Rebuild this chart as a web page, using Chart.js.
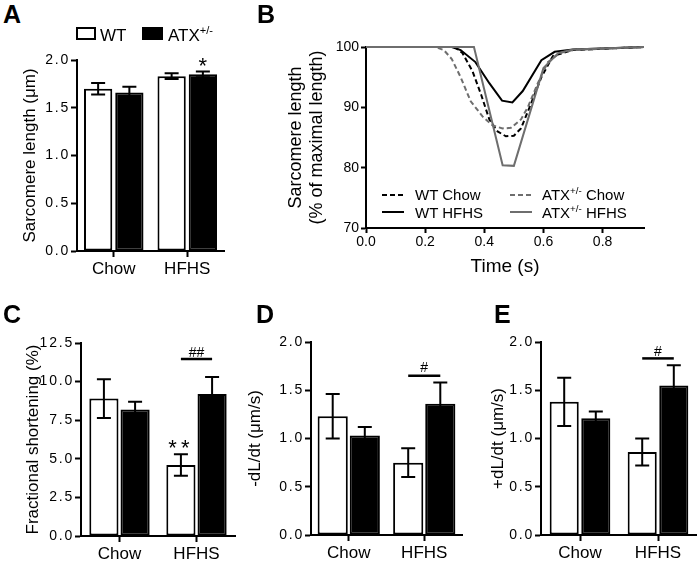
<!DOCTYPE html>
<html>
<head>
<meta charset="utf-8">
<script src="https://cdn.jsdelivr.net/npm/chart.js@4.4.1/dist/chart.umd.min.js"></script>
<style>
  body { margin: 0; background: #fff; }
  #wrap { position: relative; width: 697px; height: 564px; overflow: hidden; font-family: "Liberation Sans", Arial, sans-serif; color: #000; }
  canvas { position: absolute; }
  .panel { position: absolute; font-weight: bold; font-size: 25px; line-height: 25px; }
  .leg { position: absolute; font-size: 17px; line-height: 17px; white-space: nowrap; }
  .legB { position: absolute; font-size: 15px; line-height: 15px; white-space: nowrap; }
  .box { position: absolute; box-sizing: border-box; border: 2px solid #000; }
  sup { font-size: 0.65em; line-height: 0; vertical-align: 0; position: relative; top: -0.6em; }
  svg { position: absolute; }
</style>
</head>
<body>
<div id="wrap">
  <canvas id="chartA" width="240" height="250" style="left:0;top:40px"></canvas>
  <canvas id="chartB" width="457" height="270" style="left:240px;top:20px"></canvas>
  <canvas id="chartC" width="240" height="244" style="left:0;top:320px"></canvas>
  <canvas id="chartD" width="230" height="244" style="left:240px;top:320px"></canvas>
  <canvas id="chartE" width="227" height="244" style="left:470px;top:320px"></canvas>

  <div class="panel" style="left:3px;top:2px">A</div>
  <div class="panel" style="left:257px;top:2px">B</div>
  <div class="panel" style="left:3px;top:302px">C</div>
  <div class="panel" style="left:256px;top:302px">D</div>
  <div class="panel" style="left:494px;top:302px">E</div>

  <!-- legend A -->
  <div class="box" style="left:76px;top:27px;width:20px;height:13px;background:#fff"></div>
  <div class="leg" style="left:100px;top:27px">WT</div>
  <div class="box" style="left:142px;top:27px;width:21px;height:13px;background:#000"></div>
  <div class="leg" style="left:168px;top:27px">ATX<sup>+/-</sup></div>

  <!-- legend B -->
  <svg style="left:382px;top:190px" width="24" height="10"><line x1="0" y1="5" x2="22" y2="5" stroke="#000" stroke-width="2" stroke-dasharray="5,3"/></svg>
  <div class="legB" style="left:415px;top:187px">WT Chow</div>
  <svg style="left:382px;top:207px" width="24" height="10"><line x1="0" y1="5" x2="22" y2="5" stroke="#000" stroke-width="2"/></svg>
  <div class="legB" style="left:415px;top:205px">WT HFHS</div>
  <svg style="left:510px;top:190px" width="24" height="10"><line x1="0" y1="5" x2="22" y2="5" stroke="#6e6e6e" stroke-width="2" stroke-dasharray="5,3"/></svg>
  <div class="legB" style="left:542px;top:187px">ATX<sup>+/-</sup> Chow</div>
  <svg style="left:510px;top:207px" width="24" height="10"><line x1="0" y1="5" x2="22" y2="5" stroke="#6e6e6e" stroke-width="2"/></svg>
  <div class="legB" style="left:542px;top:205px">ATX<sup>+/-</sup> HFHS</div>
</div>

<script>
Chart.defaults.font.family = '"Liberation Sans", Arial, sans-serif';
Chart.defaults.color = '#000';
Chart.defaults.animation = false;

const categories = ['Chow', 'HFHS'];

// A: sarcomere length (µm)
const sarcWT = [1.70, 1.83];
const sarcWTErr = [0.06, 0.03];
const sarcATX = [1.66, 1.85];
const sarcATXErr = [0.06, 0.03];

// C: fractional shortening (%)
const fsWT = [8.9, 4.6];
const fsWTErr = [1.25, 0.7];
const fsATX = [8.2, 9.2];
const fsATXErr = [0.5, 1.1];

// D: -dL/dt (µm/s)
const minusWT = [1.23, 0.75];
const minusWTErr = [0.23, 0.15];
const minusATX = [1.03, 1.36];
const minusATXErr = [0.09, 0.22];

// E: +dL/dt (µm/s)
const plusWT = [1.38, 0.86];
const plusWTErr = [0.25, 0.14];
const plusATX = [1.21, 1.55];
const plusATXErr = [0.07, 0.21];

// B: sarcomere length traces (% of maximal length) vs time (s)
const timeTicks = [0, 0.2, 0.4, 0.6, 0.8];
const wtChowT = [0, 0.30, 0.326, 0.36, 0.39, 0.417, 0.445, 0.473, 0.50, 0.524, 0.553, 0.593, 0.632, 0.70, 0.94];
const wtChowY = [100, 100, 99, 96, 92, 88, 86, 85.2, 85.3, 86.5, 90, 95, 98.5, 99.5, 100];
const wtHfhsT = [0, 0.29, 0.32, 0.37, 0.417, 0.46, 0.495, 0.53, 0.593, 0.638, 0.70, 0.94];
const wtHfhsY = [100, 100, 99.5, 97.5, 94, 91.1, 90.8, 92.7, 97.8, 99.2, 99.6, 100];
const atxChowT = [0, 0.235, 0.263, 0.29, 0.32, 0.354, 0.394, 0.428, 0.462, 0.49, 0.524, 0.547, 0.581, 0.615, 0.655, 0.70, 0.94];
const atxChowY = [100, 100, 99.5, 98, 95, 91, 88.5, 87, 86.5, 86.6, 88, 90, 94, 97.5, 99, 99.5, 100];
const atxHfhsT = [0, 0.365, 0.462, 0.50, 0.60, 0.65, 0.70, 0.94];
const atxHfhsY = [100, 100, 80.4, 80.3, 96.5, 99, 99.6, 100];

// significance marks
const sarcMarks = [{ text: '*', ds: 1, idx: 1, value: 1.98, size: 22 }];
const fsMarks = [
  { text: '**', ds: 0, idx: 1, value: 5.93, size: 22, spacing: '4px' },
  { text: '##', idx: 1, value: 11.92, size: 14 },
  { kind: 'bar', idx: 1, value: 11.46 }
];
const minusMarks = [
  { text: '#', idx: 1, value: 1.736, size: 14 },
  { kind: 'bar', idx: 1, value: 1.65 }
];
const plusMarks = [
  { text: '#', idx: 1, value: 1.907, size: 14 },
  { kind: 'bar', idx: 1, value: 1.83 }
];

const errorBars = {
  id: 'errorBars',
  afterDatasetsDraw(chart) {
    const ctx = chart.ctx, y = chart.scales.y;
    chart.data.datasets.forEach((ds, i) => {
      if (!ds.errors) return;
      chart.getDatasetMeta(i).data.forEach((bar, j) => {
        const v = ds.data[j], e = ds.errors[j];
        const top = y.getPixelForValue(v + e);
        const bot = y.getPixelForValue(v - e);
        ctx.save();
        ctx.strokeStyle = '#000';
        ctx.lineWidth = 2;
        ctx.beginPath();
        ctx.moveTo(bar.x, top); ctx.lineTo(bar.x, bot);
        ctx.moveTo(bar.x - 7, top); ctx.lineTo(bar.x + 7, top);
        ctx.moveTo(bar.x - 7, bot); ctx.lineTo(bar.x + 7, bot);
        ctx.stroke();
        ctx.restore();
      });
    });
  }
};

function sigMarks(marks) {
  return {
    id: 'sigMarks',
    afterDatasetsDraw(chart) {
      const ctx = chart.ctx, y = chart.scales.y;
      const m0 = chart.getDatasetMeta(0).data, m1 = chart.getDatasetMeta(1).data;
      marks.forEach(m => {
        const py = y.getPixelForValue(m.value);
        ctx.save();
        ctx.fillStyle = '#000';
        ctx.strokeStyle = '#000';
        if (m.kind === 'bar') {
          ctx.lineWidth = 2.5;
          ctx.beginPath();
          ctx.moveTo(m0[m.idx].x, py);
          ctx.lineTo(m1[m.idx].x, py);
          ctx.stroke();
        } else {
          const px = m.ds === undefined ? (m0[m.idx].x + m1[m.idx].x) / 2 : chart.getDatasetMeta(m.ds).data[m.idx].x;
          ctx.font = m.size + 'px "Liberation Sans", Arial, sans-serif';
          ctx.letterSpacing = m.spacing || '0px';
          ctx.textAlign = 'center';
          ctx.textBaseline = 'alphabetic';
          const tm = ctx.measureText(m.text);
          ctx.fillText(m.text, px, py + (tm.actualBoundingBoxAscent - tm.actualBoundingBoxDescent) / 2);
        }
        ctx.restore();
      });
    }
  };
}

// wider letter spacing for the y tick labels of the bar panels
function spacedLabels(scale, spacing) {
  if (scale._spaced) return;
  const base = Object.getPrototypeOf(scale).drawLabels;
  scale.drawLabels = function (area) {
    this.ctx.save();
    this.ctx.letterSpacing = spacing;
    base.call(this, area);
    this.ctx.restore();
  };
  scale._spaced = true;
}

function barPanel(id, wt, wtErr, atx, atxErr, yMax, yStep, yTitle, fit, marks) {
  return new Chart(document.getElementById(id), {
    type: 'bar',
    data: {
      labels: categories,
      datasets: [
        { label: 'WT', data: wt, errors: wtErr, backgroundColor: '#fff', borderColor: '#000', borderWidth: 2, borderSkipped: false },
        { label: 'ATX+/-', data: atx, errors: atxErr, backgroundColor: '#000', borderColor: '#000', borderWidth: 2, borderSkipped: false }
      ]
    },
    options: {
      responsive: false,
      devicePixelRatio: 1,
      layout: { padding: { top: fit.top, right: fit.right, left: 0, bottom: 0 } },
      datasets: { bar: { categoryPercentage: fit.cat, barPercentage: fit.bar } },
      plugins: { legend: { display: false }, tooltip: { enabled: false } },
      scales: {
        x: {
          grid: { offset: false, drawOnChartArea: false, tickLength: 6, tickWidth: 2, tickColor: '#000' },
          border: { color: '#000', width: 2 },
          ticks: { font: { size: 17 }, padding: 2 },
          afterFit: s => { s.height = fit.xh; }
        },
        y: {
          min: 0,
          max: yMax,
          ticks: { stepSize: yStep, font: { size: 14 }, padding: 1, callback: v => v.toFixed(1) },
          grid: { drawOnChartArea: false, tickLength: 6, tickWidth: 2, tickColor: '#000' },
          border: { color: '#000', width: 2 },
          title: { display: true, text: yTitle, font: { size: 17 }, padding: { top: fit.tp, bottom: 0 } },
          afterFit: s => { s.width = fit.yw; spacedLabels(s, '1.8px'); }
        }
      }
    },
    plugins: [errorBars, sigMarks(marks)]
  });
}

barPanel('chartA', sarcWT, sarcWTErr, sarcATX, sarcATXErr, 2.0, 0.5, 'Sarcomere length (μm)',
  { top: 20, right: 16, yw: 77, xh: 39, tp: 20, cat: 0.85, bar: 0.905 }, sarcMarks);
barPanel('chartC', fsWT, fsWTErr, fsATX, fsATXErr, 12.5, 2.5, 'Fractional shortening (%)',
  { top: 23, right: 5, yw: 81, xh: 28, tp: 23, cat: 0.81, bar: 0.935 }, fsMarks);
barPanel('chartD', minusWT, minusWTErr, minusATX, minusATXErr, 2.0, 0.5, '-dL/dt (μm/s)',
  { top: 22, right: 8, yw: 71, xh: 29, tp: 5, cat: 0.85, bar: 0.94 }, minusMarks);
barPanel('chartE', plusWT, plusWTErr, plusATX, plusATXErr, 2.0, 0.5, '+dL/dt (μm/s)',
  { top: 22, right: 0, yw: 71, xh: 29, tp: 18, cat: 0.81, bar: 0.92 }, plusMarks);

const pts = (t, v) => t.map((x, i) => ({ x: x, y: v[i] }));

new Chart(document.getElementById('chartB'), {
  type: 'line',
  data: {
    datasets: [
      { label: 'ATX+/- HFHS', data: pts(atxHfhsT, atxHfhsY), borderColor: '#6e6e6e', borderWidth: 2 },
      { label: 'ATX+/- Chow', data: pts(atxChowT, atxChowY), borderColor: '#6e6e6e', borderWidth: 2, borderDash: [5, 3] },
      { label: 'WT Chow', data: pts(wtChowT, wtChowY), borderColor: '#000', borderWidth: 2, borderDash: [5, 3] },
      { label: 'WT HFHS', data: pts(wtHfhsT, wtHfhsY), borderColor: '#000', borderWidth: 2 }
    ]
  },
  options: {
    responsive: false,
    devicePixelRatio: 1,
    elements: { point: { radius: 0 }, line: { tension: 0 } },
    datasets: { line: { clip: 4 } },
    layout: { padding: { top: 27, right: 53, left: 0, bottom: 0 } },
    plugins: { legend: { display: false }, tooltip: { enabled: false } },
    scales: {
      x: {
        type: 'linear',
        min: 0,
        max: 0.94,
        ticks: { font: { size: 14 }, padding: 1, callback: v => v.toFixed(1) },
        afterBuildTicks: s => { s.ticks = timeTicks.map(v => ({ value: v })); },
        grid: { drawOnChartArea: false, tickLength: 5, tickWidth: 2, tickColor: '#000' },
        border: { color: '#000', width: 2 },
        title: { display: true, text: 'Time (s)', font: { size: 19 }, padding: { top: 0, bottom: 12 } },
        afterFit: s => { s.height = 62; }
      },
      y: {
        min: 70,
        max: 100,
        ticks: { stepSize: 10, font: { size: 14 }, padding: 2 },
        grid: { drawOnChartArea: false, tickLength: 5, tickWidth: 2, tickColor: '#000' },
        border: { color: '#000', width: 2 },
        title: { display: true, text: ['Sarcomere length', '(% of maximal length)'], font: { size: 18, lineHeight: 1.15 }, padding: { top: 46, bottom: 0 } },
        afterFit: s => { s.width = 126; }
      }
    }
  }
});
</script>
</body>
</html>
